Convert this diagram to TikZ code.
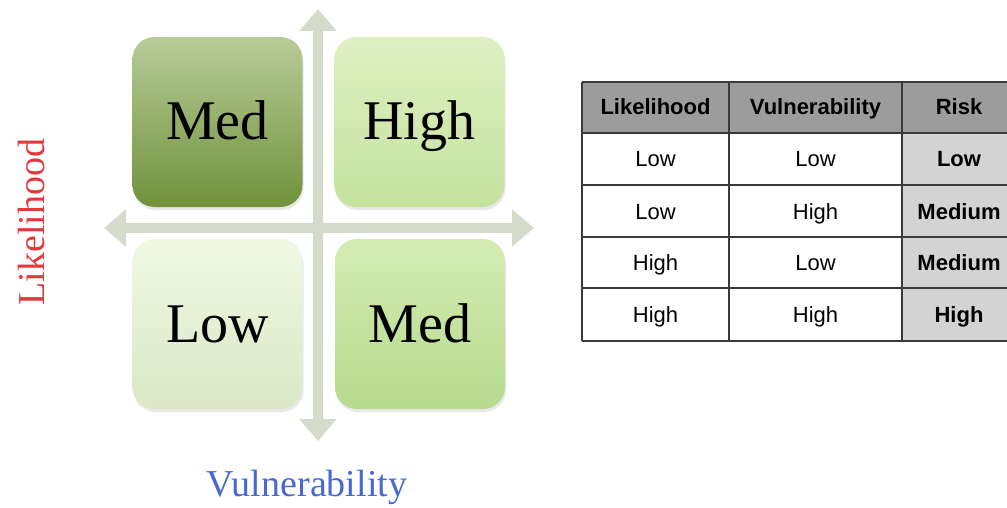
\documentclass[tikz,border=0pt]{standalone}
\usepackage{fontspec}
\setmainfont{Liberation Serif}
\setsansfont{Liberation Sans}
\usetikzlibrary{arrows.meta,shadows}
\definecolor{axisgrey}{HTML}{D5DBCA}
\definecolor{likered}{HTML}{E2393B}
\definecolor{vulblue}{HTML}{4A68D2}
\definecolor{hdgrey}{HTML}{9C9C9C}
\definecolor{riskgrey}{HTML}{D3D3D3}
\definecolor{tabline}{HTML}{3A3A3A}
\tikzset{
  riskbox/.style={rounded corners=22pt,minimum width=170pt,minimum height=170pt,
    inner sep=0pt,text height=40pt,text depth=4pt,font=\fontsize{56}{60}\selectfont,
    drop shadow={opacity=0.18,shadow xshift=1pt,shadow yshift=-3pt}},
  axis/.style={axisgrey,line width=10pt,
    {Triangle[width=36pt,length=22pt]}-{Triangle[width=36pt,length=22pt]}},
  axlabel/.style={font=\fontsize{38}{42}\selectfont},
  cell/.style={text height=18pt,text depth=2pt,font=\sffamily\fontsize{22}{24}\selectfont},
  hcell/.style={cell,font=\sffamily\bfseries\fontsize{22}{24}\selectfont},
  tabrule/.style={tabline,line width=1.4pt},
}
\begin{document}
\begin{tikzpicture}[x=1pt,y=-1pt]
  \useasboundingbox (0,0) rectangle (1007,508);
  % quadrants
  \node[riskbox,top color={rgb,255:red,184;green,204;blue,152},bottom color={rgb,255:red,112;green,145;blue,60}] (medtl) at (217.5,122) {Med};
  \node[riskbox,top color={rgb,255:red,222;green,240;blue,194},bottom color={rgb,255:red,196;green,226;blue,158}] (high) at (419.5,122) {High};
  \node[riskbox,top color={rgb,255:red,240;green,248;blue,226},bottom color={rgb,255:red,218;green,232;blue,198}] (low) at (217.5,324) {Low};
  \node[riskbox,top color={rgb,255:red,212;green,236;blue,180},bottom color={rgb,255:red,182;green,218;blue,140}] (medbr) at (420,324) {Med};
  % axes
  \coordinate (west) at (104,228);
  \coordinate (east) at (534,228);
  \coordinate (north) at (318,9);
  \coordinate (south) at (318,441);
  \draw[axis] (west) -- (east);
  \draw[axis] (south) -- (north);
  \node[axlabel,text=likered,rotate=90] (ylab) at (32,222) {Likelihood};
  \node[axlabel,text=vulblue] (xlab) at (307,487) {Vulnerability};
  % table
  \fill[hdgrey] (582,82) rectangle (1016,133);
  \fill[riskgrey] (902,133) rectangle (1016,341);
  \foreach \y in {82,133,185,237,288,341} \draw[tabrule] (582,\y) -- (1016,\y);
  \foreach \x in {582,729,902} \draw[tabrule] (\x,82) -- (\x,341);
  \node[hcell] (hlik) at (655.5,107) {Likelihood};
  \node[hcell] (hvul) at (815.5,107) {Vulnerability};
  \node[hcell] (hrisk) at (959,107) {Risk};
  \foreach \y/\l/\v/\r [count=\i] in {159/Low/Low/Low,211/Low/High/Medium,
      262/High/Low/Medium,314/High/High/High}{
    \node[cell] (lik\i) at (655.5,\y) {\l};
    \node[cell] (vul\i) at (815.5,\y) {\v};
    \node[hcell] (risk\i) at (959,\y) {\r};
  }
\end{tikzpicture}
\end{document}
